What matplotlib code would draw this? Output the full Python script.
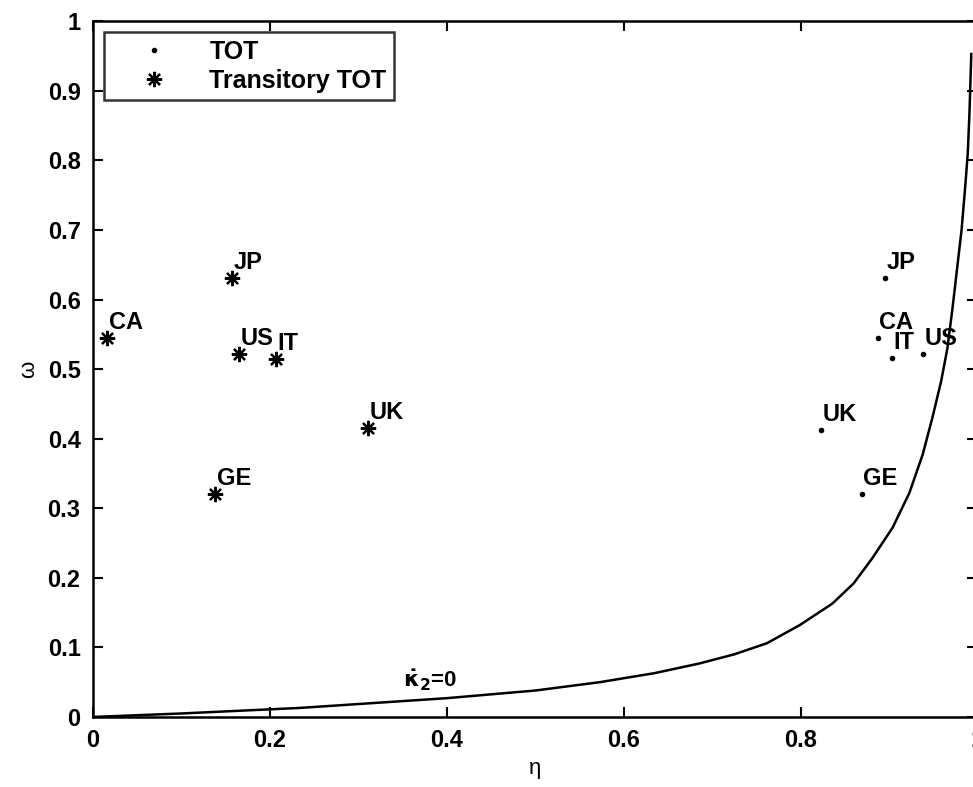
import matplotlib
matplotlib.use('Agg')
import matplotlib.pyplot as plt

plt.rcParams['font.family'] = ['Liberation Sans', 'DejaVu Sans']
plt.rcParams['mathtext.fontset'] = 'custom'
plt.rcParams['mathtext.rm'] = 'Liberation Sans'
plt.rcParams['mathtext.it'] = 'Liberation Sans:italic'

countries = ['JP', 'CA', 'IT', 'US', 'UK', 'GE']

# TOT (dots)
eta_tot = [0.895, 0.887, 0.903, 0.938, 0.823, 0.869]
omega_tot = [0.631, 0.545, 0.516, 0.522, 0.413, 0.321]

# transitory TOT (asterisks)
eta_tr = [0.157, 0.016, 0.207, 0.165, 0.311, 0.138]
omega_tr = [0.631, 0.545, 0.515, 0.522, 0.415, 0.321]

# kappa_2 dot = 0 locus
eta_curve = [0.0, 0.1, 0.234, 0.4, 0.5, 0.573, 0.635, 0.686, 0.725, 0.762,
             0.799, 0.836, 0.86, 0.881, 0.904, 0.923, 0.938, 0.949, 0.959,
             0.966, 0.972, 0.977, 0.982, 0.986, 0.989, 0.991, 0.993]
omega_curve = [0.0, 0.005, 0.013, 0.027, 0.038, 0.050, 0.063, 0.077, 0.090,
               0.106, 0.132, 0.163, 0.192, 0.228, 0.272, 0.322, 0.377, 0.430,
               0.483, 0.53, 0.59, 0.645, 0.70, 0.76, 0.81, 0.87, 0.953]

fig = plt.figure(figsize=(9.73, 7.87), dpi=100)
ax = fig.add_axes([0.0956, 0.089, 0.909, 0.884])

ax.plot(eta_curve, omega_curve, color='black', linewidth=1.8)
ax.plot(eta_tot, omega_tot, linestyle='none', marker='.', color='black',
        markersize=6, label='TOT')
ax.plot(eta_tr, omega_tr, linestyle='none', marker=(8, 2, 0), color='black',
        markersize=11, markeredgewidth=1.6, label='Transitory TOT')

for i, c in enumerate(countries):
    ax.text(eta_tot[i] + 0.002, omega_tot[i] + 0.022, c, fontsize=17,
            fontweight='bold', ha='left', va='center')
    ax.text(eta_tr[i] + 0.002, omega_tr[i] + 0.022, c, fontsize=17,
            fontweight='bold', ha='left', va='center')

ax.text(0.35, 0.043, r'$\mathbf{\dot{\kappa}_2}$=0', fontsize=16,
        fontweight='bold', ha='left', va='baseline')

ax.set_xlim(0, 1)
ax.set_ylim(0, 1)
ax.set_xticks([0, 0.2, 0.4, 0.6, 0.8, 1])
ax.set_xticklabels(['0', '0.2', '0.4', '0.6', '0.8', '1'])
ax.set_yticks([i / 10 for i in range(11)])
ax.set_yticklabels(['0'] + ['0.%d' % i for i in range(1, 10)] + ['1'])
ax.tick_params(direction='in', top=True, right=True, length=7, width=1.5,
               labelsize=17, pad=9)
for lab in ax.get_xticklabels() + ax.get_yticklabels():
    lab.set_fontweight('bold')
for s in ax.spines.values():
    s.set_linewidth(1.8)

ax.set_xlabel('η', fontsize=16, labelpad=4)
ax.set_ylabel('ω', fontsize=16, labelpad=6)

leg = ax.legend(loc='upper left', frameon=True, fancybox=False,
                prop={'size': 18, 'weight': 'bold'},
                edgecolor='black', borderaxespad=0.45, handlelength=3.4,
                handletextpad=0.5, borderpad=0.3, labelspacing=0.2)
leg.get_frame().set_linewidth(1.8)

fig.savefig('out.png', dpi=100)
